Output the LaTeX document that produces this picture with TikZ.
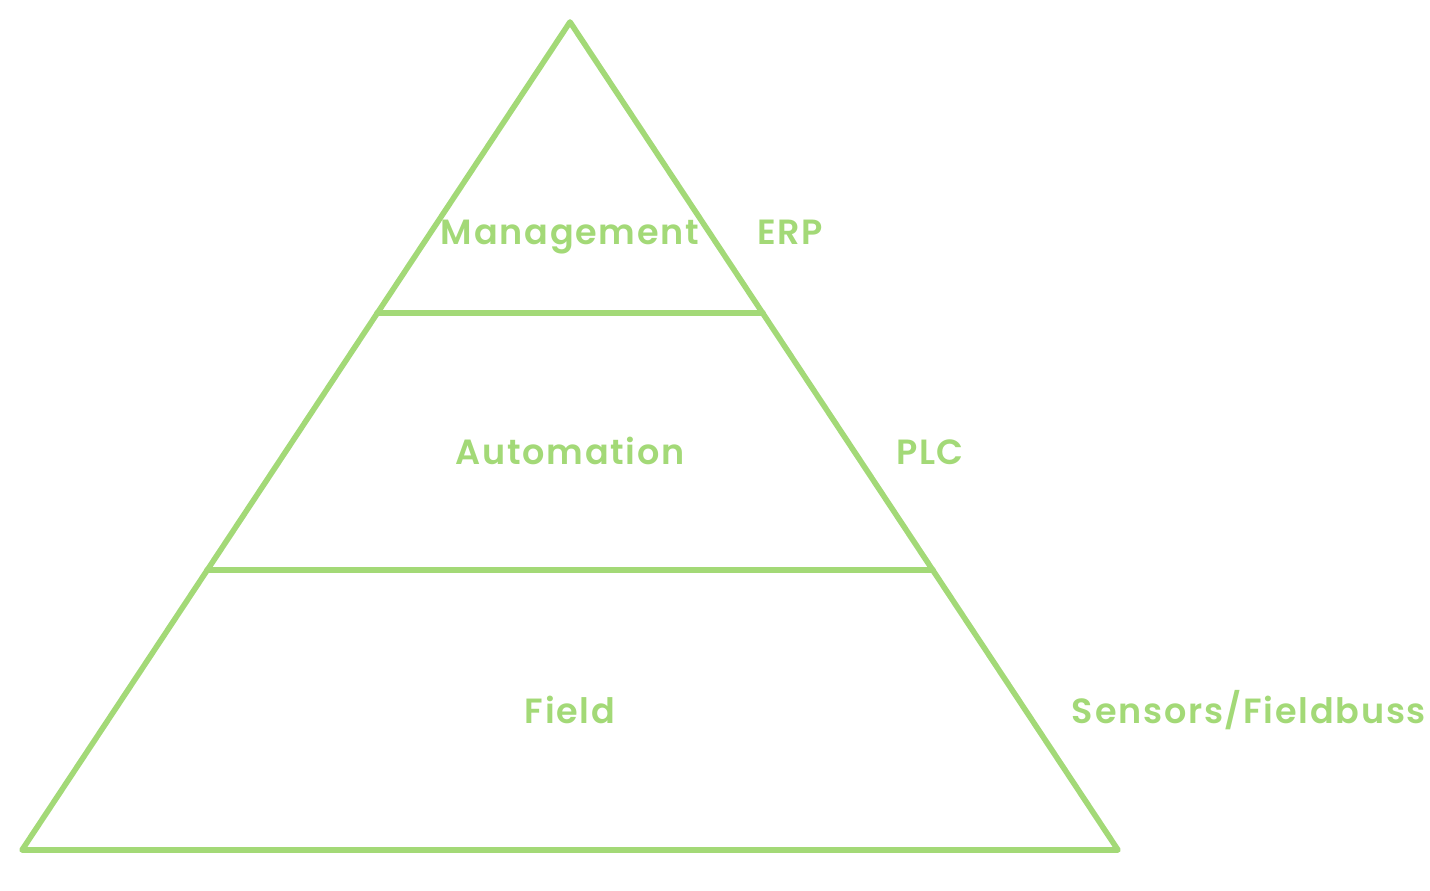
\documentclass[tikz,border=0pt]{standalone}
\usepackage{fontspec}
\setmainfont{Poppins}[UprightFont=* SemiBold,LetterSpace=5]
\definecolor{leaf}{RGB}{163,217,119}
\begin{document}
\begin{tikzpicture}[x=0.5pt,y=-0.5pt,
    layer/.style={text=leaf,font=\fontsize{17.5}{21}\selectfont,inner sep=0pt,anchor=base},
    edge/.style={draw=leaf,line width=2.8pt,line cap=round,line join=round}]
  \useasboundingbox (0,0) rectangle (1430,890);
  \draw
    (570,22) coordinate (top)
    (22,850) coordinate (bl)
    (1118,850) coordinate (br)
    (377,313) coordinate (ml)
    (763,313) coordinate (mr)
    (207,570) coordinate (al)
    (933,570) coordinate (ar);
  \begin{scope}[edge]
    \draw (top) -- (bl) -- (br) -- cycle;
    \draw (ml) -- (mr);
    \draw (al) -- (ar);
  \end{scope}
  \node[layer] (management) at (570,244) {Management};
  \node[layer] (erp) at (790,244) {ERP};
  \node[layer] (automation) at (570,464) {Automation};
  \node[layer] (plc) at (930,464) {PLC};
  \node[layer] (field) at (570,723) {Field};
  \node[layer] (sensors) at (1249,723) {Sensors/Fieldbuss};
\end{tikzpicture}
\end{document}
